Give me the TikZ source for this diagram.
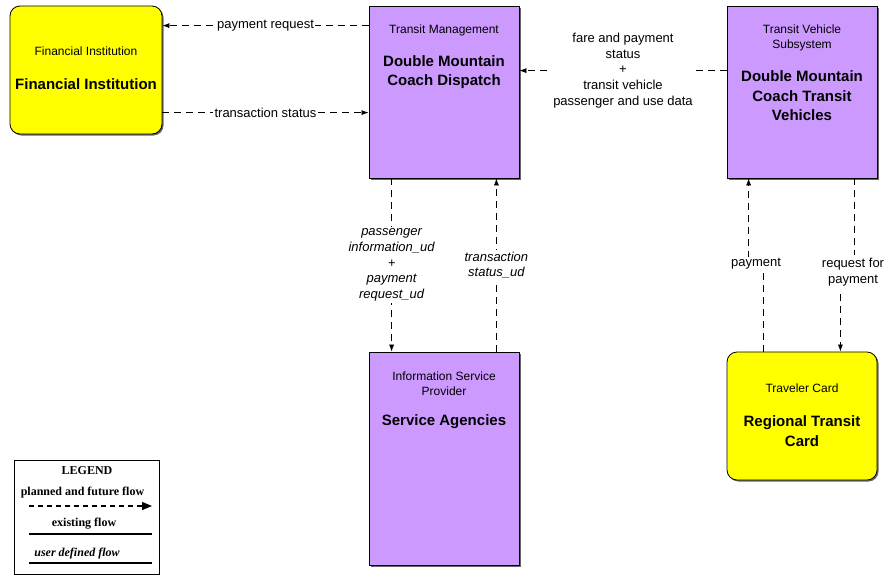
\documentclass[tikz,border=0pt]{standalone}
\usepackage{fontspec}
\setmainfont{Liberation Sans}
\newfontfamily\legendfont{Liberation Serif}
\usetikzlibrary{arrows.meta, positioning, shadows}

\definecolor{subpurple}{RGB}{204,153,255}
\definecolor{termyellow}{RGB}{255,255,0}

\begin{document}
\begin{tikzpicture}[x=1pt, y=-1pt,
    box/.style={draw=black, line width=0.8pt, drop shadow={shadow xshift=1.5pt, shadow yshift=-1.5pt, fill=black!60, opacity=1}},
    subsys/.style={box, fill=subpurple, minimum width=150pt},
    term/.style={box, fill=termyellow, rounded corners=10pt},
    hdr/.style={font=\fontsize{12}{15}\selectfont, align=center},
    title/.style={font=\fontsize{15}{19.5}\selectfont\bfseries, align=center},
    lbl/.style={font=\fontsize{13}{15.8}\selectfont, align=center, fill=white, inner sep=1.5pt},
    ulbl/.style={lbl, font=\fontsize{13}{15.8}\selectfont\itshape},
    flow/.style={line width=0.7pt, dash pattern=on 7pt off 5pt, -{Latex[length=7pt, width=5pt]}},
    legtext/.style={font=\legendfont\fontsize{12}{13}\selectfont\bfseries},
  ]
  \useasboundingbox (0,0) rectangle (890,576);

  % terminators and subsystems
  \node[term, minimum width=152pt, minimum height=128pt] (fi) at (86,70) {};
  \node[hdr] at (86,51) {Financial Institution};
  \node[title] at (86,84) {Financial Institution};

  \node[subsys, minimum height=172pt] (tm) at (444,92) {};
  \node[hdr] at (444,30) {Transit Management};
  \node[title] at (444,72) {Double Mountain\\Coach Dispatch};

  \node[subsys, minimum height=172pt] (tvs) at (802,92) {};
  \node[hdr] at (802,37.5) {Transit Vehicle\\Subsystem};
  \node[title] at (802,96) {Double Mountain\\Coach Transit\\Vehicles};

  \node[subsys, minimum height=213pt] (isp) at (444,458.5) {};
  \node[hdr] at (444,384) {Information Service\\Provider};
  \node[title] at (444,422) {Service Agencies};

  \node[term, minimum width=150pt, minimum height=128pt] (tc) at (802,416) {};
  \node[hdr] at (802,388) {Traveler Card};
  \node[title] at (802,431) {Regional Transit\\Card};

  % flows
  \draw[flow] ([yshift=-20pt]tm.north west) -- node[lbl] {payment request} ([yshift=-20pt]fi.north east);
  \draw[flow] ([yshift=-107pt]fi.north east) -- node[lbl] {transaction status} ([yshift=-107pt]tm.north west);
  \draw[flow] ([yshift=-65pt]tvs.north west) -- node[lbl] {fare and payment\\status\\+\\transit vehicle\\passenger and use data} ([yshift=-65pt]tm.north east);
  \draw[flow] ([xshift=23pt]tm.south west) -- node[ulbl] {passenger\\information\_ud\\+\\payment\\request\_ud} ([xshift=23pt]isp.north west);
  \draw[flow] ([xshift=-23pt]isp.north east) -- node[ulbl] {transaction\\status\_ud} ([xshift=-23pt]tm.south east);
  \draw[flow] ([xshift=37pt]tc.north west) -- ++(0,-80) ++(-15,-14) -- ([xshift=22pt]tvs.south west);
  \node[lbl] (lpay) at (756,264) {payment};
  \draw[flow] ([xshift=-23pt]tvs.south east) -- ++(0,77) ++(-14,39) -- ([xshift=-37pt]tc.north east);
  \node[lbl] (lreq) at (853,272) {request for\\payment};

  % legend
  \node[draw=black, line width=0.8pt, minimum width=145pt, minimum height=114pt] (legend) at (86.5,517) {};
  \node[legtext] at (87,471) {LEGEND};
  \node[legtext] at (82.5,493) {planned and future flow};
  \draw[line width=1.2pt, dash pattern=on 5pt off 4pt, -{Triangle[length=10pt, width=8pt]}] (29,506) -- (152,506);
  \node[legtext] at (84,524) {existing flow};
  \draw[line width=1.2pt] (29,534) -- (152,534);
  \node[legtext, font=\legendfont\fontsize{12}{13}\selectfont\bfseries\itshape] at (77,554) {user defined flow};
  \draw[line width=1.2pt] (29,563) -- (152,563);
\end{tikzpicture}
\end{document}
